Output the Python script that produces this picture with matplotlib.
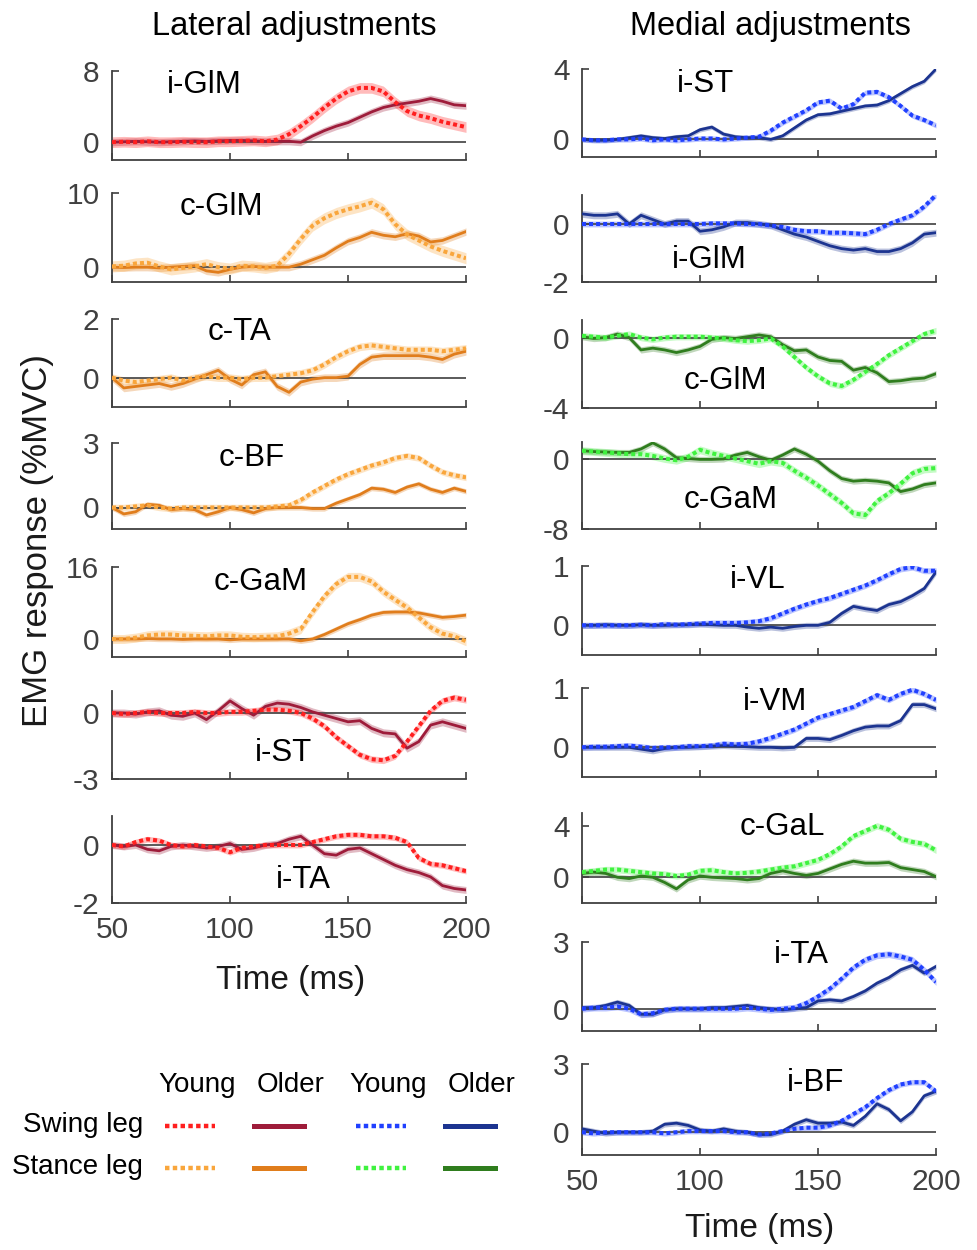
import numpy as np
import matplotlib
matplotlib.use("Agg")
import matplotlib.pyplot as plt
from matplotlib.lines import Line2D

plt.rcParams['font.family'] = ['Liberation Sans', 'DejaVu Sans']
plt.rcParams['axes.unicode_minus'] = False

# time axis (ms)
t = [50, 55, 60, 65, 70, 75, 80, 85, 90, 95, 100, 105, 110, 115, 120, 125,
     130, 135, 140, 145, 150, 155, 160, 165, 170, 175, 180, 185, 190, 195, 200]

# ---- Lateral adjustments (young = dotted, older = solid) ----
lat_iGlM_young = [0, 0.05, 0, 0.1, 0, 0, 0.05, 0, 0, 0.1, 0.1, 0.15, 0.2, 0.1, 0.3, 0.9,
                  1.8, 2.8, 3.9, 4.9, 5.7, 6.1, 6.1, 5.7, 4.5, 3.5, 3.0, 2.7, 2.3, 2.0, 1.7]
lat_iGlM_older = [0, 0.05, 0.1, 0.05, 0, 0.05, 0.1, 0.15, 0.1, 0.15, 0.2, 0.2, 0.15, 0.1, 0.1, 0.1,
                  0, 0.7, 1.3, 1.8, 2.2, 2.8, 3.4, 3.9, 4.2, 4.4, 4.6, 4.9, 4.6, 4.2, 4.1]
lat_cGlM_young = [0.1, 0.2, 0.5, 0.6, 0.1, -0.3, -0.1, 0.1, 0.4, 0, -0.2, 0.2, 0.1, -0.1, 0.2, 1.8,
                  3.8, 5.6, 6.6, 7.3, 7.8, 8.2, 8.7, 7.8, 5.8, 4.4, 3.6, 2.8, 2.2, 1.7, 1.2]
lat_cGlM_older = [0, -0.05, 0, 0, -0.1, 0, 0.1, 0.2, -0.5, -0.7, -0.3, 0, 0.1, 0, 0, 0,
                  0.4, 1.0, 1.6, 2.6, 3.5, 4.0, 4.7, 4.3, 4.1, 4.5, 4.2, 3.4, 3.6, 4.2, 4.8]
lat_cTA_young = [0, -0.1, -0.15, -0.1, -0.05, 0, -0.1, 0, 0.05, 0, 0, -0.05, 0, 0, 0.05, 0.1,
                 0.15, 0.25, 0.45, 0.7, 0.9, 1.05, 1.1, 1.05, 1.0, 0.95, 0.95, 0.95, 0.9, 0.95, 1.0]
lat_cTA_older = [0, -0.35, -0.3, -0.25, -0.2, -0.3, -0.2, -0.05, 0.1, 0.25, -0.05, -0.25, 0.1, 0.2, -0.3, -0.5,
                 -0.15, -0.05, 0, 0, 0.05, 0.45, 0.7, 0.75, 0.75, 0.75, 0.75, 0.7, 0.62, 0.8, 0.9]
lat_cBF_young = [0, 0, 0.05, 0.1, 0, -0.05, 0, 0, 0, 0, 0, 0, 0, 0, 0.05, 0.1,
                 0.35, 0.7, 1.0, 1.3, 1.55, 1.75, 1.95, 2.1, 2.3, 2.4, 2.3, 1.95, 1.65, 1.5, 1.4]
lat_cBF_older = [0, -0.3, -0.2, 0.15, 0.1, -0.1, -0.05, -0.1, -0.35, -0.2, 0, -0.1, -0.25, -0.05, 0, 0,
                 0, -0.05, -0.05, 0.2, 0.4, 0.6, 0.9, 0.85, 0.7, 0.95, 1.1, 0.85, 0.7, 0.9, 0.75]
lat_cGaM_young = [0, 0, 0.3, 0.8, 1.0, 1.0, 0.8, 0.7, 0.6, 0.8, 0.8, 0.5, 0.4, 0.5, 0.6, 1.2,
                  2.2, 6.0, 9.5, 12.2, 13.8, 13.8, 12.8, 10.5, 8.7, 7.0, 4.8, 2.6, 1.2, 0.6, -0.5]
lat_cGaM_older = [0, 0, 0, 0.1, 0, 0, -0.1, 0, 0, 0, -0.2, 0, 0, 0, 0, 0,
                  -0.4, 0, 1.0, 2.2, 3.4, 4.3, 5.3, 5.9, 6.0, 6.0, 5.8, 5.3, 4.8, 5.0, 5.3]
lat_iST_young = [0, -0.05, 0, 0.05, 0, 0, 0, 0.05, 0, 0, 0.05, 0.05, 0.1, 0.15, 0.15, 0.1,
                 0, -0.25, -0.6, -1.1, -1.5, -1.9, -2.1, -2.15, -1.95, -1.3, -0.6, 0.1, 0.55, 0.7, 0.6]
lat_iST_older = [0, 0, -0.05, 0.05, 0.1, -0.1, -0.15, 0, -0.3, 0.1, 0.55, 0.2, -0.1, 0.3, 0.45, 0.4,
                 0.25, 0.05, -0.1, -0.25, -0.4, -0.35, -0.7, -0.9, -0.95, -1.6, -1.3, -0.55, -0.4, -0.55, -0.7]
lat_iTA_young = [0, -0.05, 0.1, 0.2, 0.15, 0, -0.05, 0, -0.05, -0.1, -0.25, -0.1, -0.05, 0, 0, 0,
                 0, 0.1, 0.2, 0.3, 0.35, 0.35, 0.3, 0.3, 0.25, 0.1, -0.45, -0.65, -0.7, -0.8, -0.9]
lat_iTA_older = [0, -0.05, 0, -0.15, -0.2, -0.05, 0, -0.05, -0.1, -0.05, 0.05, -0.15, -0.1, 0, 0.05, 0.2,
                 0.3, 0, -0.3, -0.35, -0.15, -0.1, -0.3, -0.5, -0.7, -0.85, -0.95, -1.1, -1.4, -1.5, -1.55]

# ---- Medial adjustments ----
med_iST_young = [0, -0.05, -0.05, 0, 0, 0.05, -0.05, 0, -0.05, 0, 0.05, 0.05, 0, 0.05, 0.1, 0.15,
                 0.5, 0.95, 1.3, 1.65, 2.1, 2.2, 1.75, 2.0, 2.65, 2.7, 2.4, 1.9, 1.35, 1.1, 0.8]
med_iST_older = [0, -0.05, -0.05, 0, 0.1, 0.2, 0.1, 0.05, 0.15, 0.2, 0.55, 0.7, 0.3, 0.15, 0.1, 0.1,
                 0, 0.2, 0.65, 1.1, 1.4, 1.45, 1.6, 1.75, 1.9, 1.95, 2.2, 2.6, 3.0, 3.3, 4.0]
med_iGlM_young = [0, 0, 0, 0, 0, 0, 0, 0, 0, 0, 0, 0.02, 0.02, 0.02, 0, 0,
                  -0.05, -0.1, -0.2, -0.25, -0.25, -0.3, -0.3, -0.32, -0.35, -0.2, 0, 0.15, 0.3, 0.6, 1.0]
med_iGlM_older = [0.35, 0.3, 0.3, 0.35, 0.0, 0.3, 0.15, 0.0, 0.1, 0.1, -0.25, -0.2, -0.1, 0.05, 0.05, 0,
                  -0.05, -0.2, -0.35, -0.45, -0.6, -0.75, -0.85, -0.9, -0.85, -0.95, -0.95, -0.85, -0.65, -0.35, -0.3]
med_cGlM_young = [0.1, 0.05, 0.0, 0.1, 0.2, 0, -0.1, 0, 0.05, 0.05, 0.05, 0, -0.05, -0.15, -0.2, -0.15,
                  -0.05, -0.5, -1.1, -1.7, -2.2, -2.6, -2.75, -2.4, -1.95, -1.5, -1.0, -0.6, -0.2, 0.2, 0.4]
med_cGlM_older = [0.05, -0.05, 0.0, 0.2, 0.0, -0.7, -0.6, -0.7, -0.85, -0.7, -0.5, -0.1, 0.0, -0.05, 0.05, 0.15,
                  0.05, -0.4, -0.75, -0.7, -1.1, -1.3, -1.35, -1.85, -1.7, -2.0, -2.5, -2.45, -2.35, -2.3, -2.05]
med_cGaM_young = [1.0, 0.9, 0.8, 0.7, 0.6, 0.6, 0.4, 0.1, -0.1, 0.3, 1.1, 0.7, 0.4, 0.1, -0.2, -0.5,
                  -0.2, -0.4, -1.3, -2.1, -3.0, -4.0, -5.0, -6.2, -6.4, -4.8, -3.9, -2.8, -1.6, -1.1, -1.0]
med_cGaM_older = [1.0, 0.9, 0.85, 0.8, 0.8, 1.2, 1.9, 1.2, 0.2, 0.1, 0.0, 0.0, 0.05, 0.5, 0.8, 0.3,
                  -0.1, 0.5, 1.2, 0.6, -0.2, -1.3, -2.2, -2.5, -2.4, -2.5, -2.7, -3.7, -3.4, -2.9, -2.7]
med_iVL_young = [0, 0, 0, 0, 0, 0.01, 0, 0.02, 0.01, 0.02, 0.03, 0.04, 0.04, 0.04, 0.05, 0.07,
                 0.12, 0.2, 0.28, 0.35, 0.41, 0.46, 0.53, 0.6, 0.67, 0.76, 0.86, 0.95, 0.98, 0.92, 0.92]
med_iVL_older = [0, 0, 0.01, 0, 0, 0.01, 0, 0, 0.01, 0.01, 0.02, 0.01, 0, 0, -0.03, -0.05,
                 -0.03, -0.05, -0.02, 0, 0.0, 0.05, 0.2, 0.32, 0.28, 0.25, 0.35, 0.4, 0.5, 0.62, 0.9]
med_iVM_young = [0, 0.01, 0.01, 0.02, 0.03, 0.01, -0.01, 0.0, 0.0, 0.02, 0.02, 0.03, 0.06, 0.05, 0.06, 0.1,
                 0.16, 0.23, 0.3, 0.4, 0.5, 0.56, 0.62, 0.68, 0.78, 0.88, 0.8, 0.9, 0.97, 0.9, 0.8]
med_iVM_older = [0, 0, 0, 0, 0, -0.03, -0.06, -0.02, 0, 0, 0.01, 0.02, 0.03, 0.02, 0.01, 0,
                 0, -0.01, 0, 0.15, 0.15, 0.13, 0.2, 0.28, 0.34, 0.36, 0.36, 0.45, 0.72, 0.72, 0.65]
med_cGaL_young = [0.4, 0.5, 0.6, 0.6, 0.5, 0.4, 0.3, 0.25, 0.1, 0.2, 0.5, 0.55, 0.4, 0.3, 0.35, 0.45,
                  0.6, 0.75, 0.85, 1.1, 1.35, 1.8, 2.4, 3.2, 3.6, 4.0, 3.7, 3.0, 2.75, 2.6, 2.1]
med_cGaL_older = [0.3, 0.4, 0.3, 0.0, -0.1, 0.1, 0.0, -0.4, -0.9, -0.2, 0.1, 0.0, -0.05, -0.1, -0.2, -0.1,
                  0.3, 0.5, 0.3, 0.15, 0.3, 0.65, 1.0, 1.25, 1.1, 1.1, 1.15, 0.75, 0.6, 0.45, 0.05]
med_iTA_young = [0, 0.05, 0.05, 0.1, 0.0, -0.25, -0.2, -0.05, 0.0, 0.0, 0.0, 0.0, 0.0, 0.0, 0.05, 0.0,
                 -0.05, 0.0, 0.05, 0.25, 0.55, 0.9, 1.35, 1.85, 2.2, 2.4, 2.45, 2.35, 2.2, 1.75, 1.2]
med_iTA_older = [0.05, 0.05, 0.15, 0.3, 0.15, -0.25, -0.25, -0.05, 0.0, 0.0, 0.0, 0.05, 0.05, 0.1, 0.15, 0.05,
                 0.0, -0.05, 0.0, 0.05, 0.35, 0.4, 0.35, 0.55, 0.8, 1.15, 1.4, 1.75, 1.95, 1.6, 1.9]
med_iBF_young = [0, -0.05, 0, 0, 0, 0, 0, -0.05, 0.0, 0.05, 0.05, 0.05, 0.05, 0.0, 0.0, -0.1,
                 -0.05, 0.05, 0.15, 0.2, 0.2, 0.3, 0.5, 0.8, 1.1, 1.5, 1.85, 2.1, 2.2, 2.2, 1.8]
med_iBF_older = [0.15, 0.05, -0.05, 0, 0, 0, 0.05, 0.35, 0.4, 0.3, 0.1, 0.05, 0.15, 0.05, 0.0, -0.1,
                 -0.1, 0.05, 0.35, 0.55, 0.4, 0.4, 0.45, 0.3, 0.7, 1.25, 1.0, 0.5, 0.9, 1.6, 1.8]

# standard error half-widths (young, older) per panel
lat_se = [(0.6, 0.4), (0.75, 0.5), (0.13, 0.13), (0.15, 0.12), (1.0, 0.6), (0.15, 0.18), (0.1, 0.12)]
med_se = [(0.15, 0.13), (0.1, 0.12), (0.18, 0.18), (0.45, 0.35), (0.05, 0.05),
          (0.05, 0.05), (0.25, 0.25), (0.15, 0.12), (0.12, 0.12)]

# colours
RED, MAROON = '#ff1f1f', '#9e1c3a'
ORANGE_L, ORANGE = '#f9a63c', '#e07d1c'
BLUE, NAVY = '#2040ff', '#1c3490'
GREEN_L, GREEN = '#3ff23f', '#2f7d1e'

W, H = 977, 1250
fig = plt.figure(figsize=(W / 100, H / 100), dpi=100)

# label, young, older, ylim, yticks, (label x, label y in axes frac), colours, (top px, bottom px)
left_panels = [
    ('i-GlM', lat_iGlM_young, lat_iGlM_older, (-2, 8), [0, 8], (0.26, 0.84), (RED, MAROON), (71, 160)),
    ('c-GlM', lat_cGlM_young, lat_cGlM_older, (-2, 10), [0, 10], (0.31, 0.84), (ORANGE_L, ORANGE), (193, 282)),
    ('c-TA', lat_cTA_young, lat_cTA_older, (-1, 2), [0, 2], (0.36, 0.85), (ORANGE_L, ORANGE), (319, 407)),
    ('c-BF', lat_cBF_young, lat_cBF_older, (-1, 3), [0, 3], (0.395, 0.83), (ORANGE_L, ORANGE), (443, 529)),
    ('c-GaM', lat_cGaM_young, lat_cGaM_older, (-4, 16), [0, 16], (0.42, 0.83), (ORANGE_L, ORANGE), (567, 657)),
    ('i-ST', lat_iST_young, lat_iST_older, (-3, 1), [-3, 0], (0.485, 0.30), (RED, MAROON), (691, 779)),
    ('i-TA', lat_iTA_young, lat_iTA_older, (-2, 1), [-2, 0], (0.54, 0.26), (RED, MAROON), (816, 903)),
]
right_panels = [
    ('i-ST', med_iST_young, med_iST_older, (-1, 4), [0, 4], (0.35, 0.83), (BLUE, NAVY), (69, 157)),
    ('i-GlM', med_iGlM_young, med_iGlM_older, (-2, 1), [-2, 0], (0.36, 0.25), (BLUE, NAVY), (195, 282)),
    ('c-GlM', med_cGlM_young, med_cGlM_older, (-4, 1), [-4, 0], (0.405, 0.31), (GREEN_L, GREEN), (320, 408)),
    ('c-GaM', med_cGaM_young, med_cGaM_older, (-8, 2), [-8, 0], (0.42, 0.33), (GREEN_L, GREEN), (442, 529)),
    ('i-VL', med_iVL_young, med_iVL_older, (-0.5, 1), [0, 1], (0.495, 0.84), (BLUE, NAVY), (566, 655)),
    ('i-VM', med_iVM_young, med_iVM_older, (-0.5, 1), [0, 1], (0.545, 0.84), (BLUE, NAVY), (688, 777)),
    ('c-GaL', med_cGaL_young, med_cGaL_older, (-2, 5), [0, 4], (0.565, 0.84), (GREEN_L, GREEN), (813, 903)),
    ('i-TA', med_iTA_young, med_iTA_older, (-1, 3), [0, 3], (0.62, 0.85), (BLUE, NAVY), (942, 1031)),
    ('i-BF', med_iBF_young, med_iBF_older, (-1, 3), [0, 3], (0.66, 0.79), (BLUE, NAVY), (1064, 1155)),
]


def draw_panel(x0_px, spec, se, last):
    name, young, older, ylim, yticks, lpos, cols, (top, bot) = spec
    ax = fig.add_axes([x0_px / W, 1 - bot / H, 354 / W, (bot - top) / H])
    y_young, y_older = np.array(young), np.array(older)
    ax.fill_between(t, y_older - se[1], y_older + se[1], color=cols[1], alpha=0.3, lw=0)
    ax.fill_between(t, y_young - se[0], y_young + se[0], color=cols[0], alpha=0.3, lw=0)
    ax.axhline(0, color='0.3', lw=1.3, zorder=1)
    ax.plot(t, older, color=cols[1], lw=2.0, zorder=3)
    ax.plot(t, young, color=cols[0], lw=2.9, ls=(0, (1.0, 0.75)), zorder=4)
    ax.set_xlim(50, 200)
    ax.set_ylim(*ylim)
    ax.set_yticks(yticks)
    ax.set_xticks([50, 100, 150, 200])
    for s in ['top', 'right']:
        ax.spines[s].set_visible(False)
    for s in ['left', 'bottom']:
        ax.spines[s].set_color('0.25')
        ax.spines[s].set_linewidth(1.3)
    ax.tick_params(direction='in', length=5, width=1.2, colors='0.25',
                   labelsize=21.5, pad=9, labelcolor='0.25')
    if not last:
        ax.set_xticklabels([])
    ax.text(lpos[0], lpos[1], name, transform=ax.transAxes, ha='center', va='center',
            fontsize=22.5, color='black')
    return ax


for i, spec in enumerate(left_panels):
    draw_panel(112, spec, lat_se[i], i == len(left_panels) - 1)
for i, spec in enumerate(right_panels):
    draw_panel(582, spec, med_se[i], i == len(right_panels) - 1)

# titles and axis labels
fig.text(294 / W, 1 - 27 / H, 'Lateral adjustments', ha='center', va='center', fontsize=23.5)
fig.text(770 / W, 1 - 27 / H, 'Medial adjustments', ha='center', va='center', fontsize=23.5)
fig.text(38 / W, 1 - 541 / H, 'EMG response (%MVC)', rotation=90, ha='center', va='center',
         fontsize=25, color='0.1')
fig.text(291 / W, 1 - 980 / H, 'Time (ms)', ha='center', va='center', fontsize=24, color='0.1')
fig.text(760 / W, 1 - 1228 / H, 'Time (ms)', ha='center', va='center', fontsize=24, color='0.1')

# legend block
col_x = [197, 291, 388, 482]
for x, lab in zip(col_x, ['Young', 'Older', 'Young', 'Older']):
    fig.text(x / W, 1 - 1085 / H, lab, ha='center', va='center', fontsize=20)
for y, lab in [(1125, 'Swing leg'), (1167, 'Stance leg')]:
    fig.text(143 / W, 1 - y / H, lab, ha='right', va='center', fontsize=20)

legend_keys = [
    (1126, [(RED, True), (MAROON, False), (BLUE, True), (NAVY, False)]),
    (1168, [(ORANGE_L, True), (ORANGE, False), (GREEN_L, True), (GREEN, False)]),
]
for y, keys in legend_keys:
    for x, (c, dotted) in zip(col_x, keys):
        xs = [(x - 32) / W, (x + 18) / W] if dotted else [(x - 37) / W, (x + 13) / W]
        ln = Line2D(xs, [1 - y / H] * 2, transform=fig.transFigure, color=c,
                    lw=3.2 if dotted else 3.6,
                    ls=(0, (1.0, 0.75)) if dotted else '-')
        fig.add_artist(ln)

fig.savefig('out.png', dpi=100)
